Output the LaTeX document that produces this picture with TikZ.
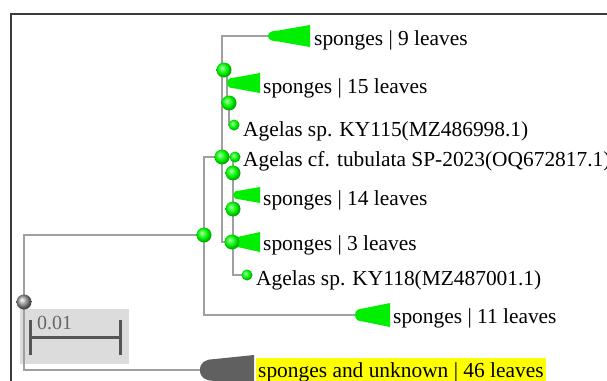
\documentclass[tikz,border=0pt]{standalone}
\usepackage{fontspec}
\setmainfont{Liberation Serif}
\definecolor{brgray}{HTML}{A0A0A0}
\definecolor{framegray}{HTML}{3C3C3C}
\definecolor{cladegreen}{HTML}{00EE00}
\definecolor{cladegray}{HTML}{606060}
\definecolor{scalebg}{HTML}{DCDCDC}
\definecolor{scaleink}{HTML}{555555}
\definecolor{hlyellow}{HTML}{FFFF00}
\pgfdeclareradialshading{greensphere}{\pgfpoint{-8bp}{8bp}}{%
  color(0bp)=(green!25!white); color(9bp)=(green!75!white); color(18bp)=(green!90!black);
  color(25bp)=(green!68!black); color(50bp)=(green!68!black)}
\pgfdeclareradialshading{graysphere}{\pgfpoint{-8bp}{8bp}}{%
  color(0bp)=(white); color(9bp)=(gray!55!white); color(18bp)=(gray!90!black);
  color(25bp)=(gray!55!black); color(50bp)=(gray!55!black)}
\tikzset{
  br/.style={draw=brgray, line width=1.8pt},
  gball/.style={circle, inner sep=0pt, minimum size=15pt, shading=greensphere},
  sball/.style={gball, minimum size=11pt},
  rball/.style={circle, inner sep=0pt, minimum size=15pt, shading=graysphere},
  lbl/.style={anchor=base west, inner sep=0pt, font=\fontsize{21.4}{24}\selectfont},
  pics/clade/.style n args={4}{code={
    \fill[#1] (0,0) .. controls (0,{-#3*#4*0.7}) and ({#2*0.1},{-#3*#4}) .. ({#2*0.25},{-#3*#4})
      -- (#2,-#3) -- (#2,#3) -- ({#2*0.25},{#3*#4})
      .. controls ({#2*0.1},{#3*#4}) and (0,{#3*#4*0.7}) .. cycle;}}
}
\begin{document}
\begin{tikzpicture}[x=1pt,y=-1pt]
\useasboundingbox (0,0) rectangle (607,380);
\fill[white] (0,0) rectangle (607,380);
% frame
\draw[framegray, line width=1.5pt] (11,381) -- (11,14) -- (608,14);
% scale box
\fill[scalebg] (20,309) rectangle (129,364);
% node positions
\coordinate (nR) at (24,302);
\coordinate (nG) at (204,235);
\coordinate (tGray) at (200,370);
\coordinate (t11) at (355,315);
\coordinate (nH) at (222,157);
\coordinate (t9) at (268,36);
\coordinate (nB) at (224,70);
\coordinate (t15) at (227,83);
\coordinate (nD) at (229,103);
\coordinate (lKY115) at (234,125);
\coordinate (lTub) at (235,157);
\coordinate (nF) at (233,173);
\coordinate (t14) at (233,195);
\coordinate (nI) at (233,209);
\coordinate (t3) at (233,242);
\coordinate (nE) at (232,242);
\coordinate (lKY118) at (247,275);
% branches
\draw[br] (nG) -| (nR);
\draw[br] (nR) |- (tGray);
\draw[br] (nH) -| (nG);
\draw[br] (nG) |- (t11);
\draw[br] (nH) |- (t9);
\draw[br] (nB) -| (t15);
\draw[br] (t15) |- (nD);
\draw[br] (nD) |- (lKY115);
\draw[br] (nH) |- (nE);
\draw[br] (nH) -- (lTub);
\draw[br] (nF) -- (nF |- lTub);
\draw[br] (nF) |- (lKY118);
\draw[br] (nI) -- (t14);
% clades
\pic at (t9) {clade={cladegreen}{42}{11}{0.5}};
\pic at (t15) {clade={cladegreen}{33}{10}{0.55}};
\pic at (t14) {clade={cladegreen}{27}{8}{0.55}};
\pic at (t3) {clade={cladegreen}{27}{10}{0.55}};
\pic at (t11) {clade={cladegreen}{35}{12}{0.55}};
\pic at (tGray) {clade={cladegray}{54}{15}{0.72}};
% spheres
\node[rball] (bR) at (nR) {};
\node[gball] (bG) at (nG) {};
\node[gball] (bH) at (nH) {};
\node[gball] (bB) at (nB) {};
\node[gball] (bD) at (nD) {};
\node[sball] (bKY115) at (lKY115) {};
\node[sball] (bTub) at (lTub) {};
\node[gball] (bF) at (nF) {};
\node[gball] (bI) at (nI) {};
\node[gball] (bE) at (nE) {};
\node[sball] (bKY118) at (lKY118) {};
% labels
\node[lbl] (L9) at (314,45) {sponges | 9 leaves};
\node[lbl] (L15) at (263,93) {sponges | 15 leaves};
\node[lbl] (LKY115) at (243,136) {Agelas sp. KY115(MZ486998.1)};
\node[lbl] (LTub) at (243,166) {Agelas cf. tubulata SP-2023(OQ672817.1)};
\node[lbl] (L14) at (263,205) {sponges | 14 leaves};
\node[lbl] (L3) at (263,250) {sponges | 3 leaves};
\node[lbl] (LKY118) at (256,285) {Agelas sp. KY118(MZ487001.1)};
\node[lbl] (L11) at (393,323) {sponges | 11 leaves};
\node[lbl, fill=hlyellow, inner xsep=2pt, inner ysep=4pt, text height=15pt, text depth=5pt] (LGray) at (256,377) {sponges and unknown | 46 leaves};
% scale bar
\coordinate (sA) at (30,337);
\coordinate (sB) at (120,337);
\draw[scaleink, line width=3pt] (sA) -- (sB);
\draw[scaleink, line width=3pt] ([yshift=-18pt]sA) -- ([yshift=17pt]sA);
\draw[scaleink, line width=3pt] ([yshift=-18pt]sB) -- ([yshift=17pt]sB);
\node[anchor=base west, inner sep=0pt, text=scaleink!90!white, font=\fontsize{20}{22}\selectfont] (sL) at (37,329) {0.01};
\end{tikzpicture}
\end{document}
